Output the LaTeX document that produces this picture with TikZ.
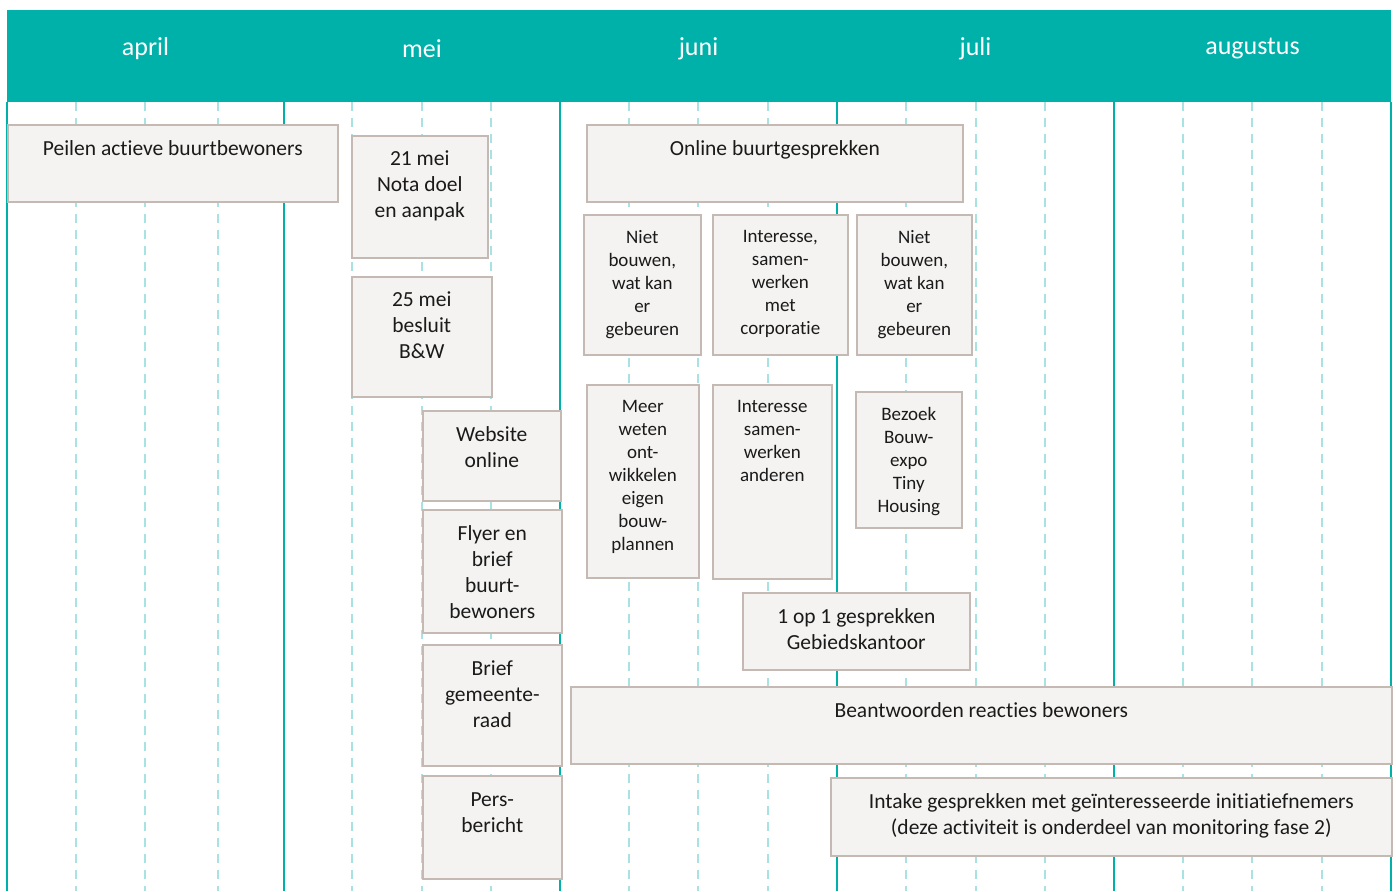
\documentclass[tikz,border=0pt]{standalone}
\usepackage{fontspec}
\setmainfont{Carlito}[Ligatures=NoCommon]
\usepackage{xcolor}
\usetikzlibrary{positioning}
\definecolor{teal}{RGB}{0, 177, 170}
\definecolor{teallight}{RGB}{168, 226, 226}
\definecolor{boxfill}{RGB}{245, 243, 241}
\definecolor{boxline}{RGB}{197, 185, 179}
\definecolor{inkdark}{RGB}{26, 26, 26}

\begin{document}
\begin{tikzpicture}[
  x=1pt, y=-1pt,
  month/.style={text=white, font=\fontsize{26}{30}\selectfont},
  box/.style={rectangle, draw=boxline, fill=boxfill, line width=1.6pt, anchor=north west, inner sep=0pt},
  txt/.style={align=center, inner sep=0pt, text=inkdark, font=\fontsize{21.5}{26}\selectfont},
  small/.style={align=center, inner sep=0pt, text=inkdark, font=\fontsize{19}{23}\selectfont}
]
\useasboundingbox[fill=white] (0,0) rectangle (1396,891);

% Header
\fill[teal] (7,10) rectangle (1391,102);
\node[month] (apr) at (145.5,49) {april};
\node[month] (mei) at (422,49) {mei};
\node[month] (jun) at (698.5,49) {juni};
\node[month] (jul) at (975.5,49) {juli};
\node[month] (aug) at (1252.5,49) {augustus};

% Grid
\foreach \x in {76,145,218,352,422,491,629,698,768,906,976,1045,1183,1252,1322}
  \draw[teallight, line width=1.8pt, dash pattern=on 9pt off 7pt] (\x,102) -- (\x,891);
\foreach \x in {7,284,560,837,1114,1391}
  \draw[teal, line width=1.2pt] (\x,102) -- (\x,891);

% April / mei
\node[box, minimum width=330pt, minimum height=77pt] (peilen) at (7,124) {};
\node[txt, below=16pt of peilen.north] (peilen-t) {Peilen actieve buurtbewoners};
\node[box, minimum width=136pt, minimum height=122pt] (nota) at (351,135) {};
\node[txt, below=16pt of nota.north] (nota-t) {21 mei\\Nota doel\\en aanpak};
\node[box, minimum width=140pt, minimum height=120pt] (besluit) at (351,276) {};
\node[txt, below=16pt of besluit.north] (besluit-t) {25 mei\\besluit\\B\&W};

% Communicatie
\node[box, minimum width=138pt, minimum height=90pt] (website) at (422,410) {};
\node[txt, below=16pt of website.north] (website-t) {Website\\online};
\node[box, minimum width=139pt, minimum height=123pt] (flyer) at (422,509) {};
\node[txt, below=16pt of flyer.north] (flyer-t) {Flyer en\\brief\\buurt-\\bewoners};
\node[box, minimum width=139pt, minimum height=121pt] (raad) at (422,644) {};
\node[txt, below=16pt of raad.north] (raad-t) {Brief\\gemeente-\\raad};
\node[box, minimum width=139pt, minimum height=103pt] (pers) at (422,775) {};
\node[txt, below=17pt of pers.north] (pers-t) {Pers-\\bericht};

% Juni / juli
\node[box, minimum width=376pt, minimum height=77pt] (online) at (586,124) {};
\node[txt, below=16pt of online.north] (online-t) {Online buurtgesprekken};
\node[box, minimum width=117pt, minimum height=140pt] (niet1) at (583,214) {};
\node[small, below=16pt of niet1.north] (niet1-t) {Niet\\bouwen,\\wat kan\\er\\gebeuren};
\node[box, minimum width=135pt, minimum height=140pt] (corp) at (712,214) {};
\node[small, below=16pt of corp.north] (corp-t) {Interesse,\\samen-\\werken\\met\\corporatie};
\node[box, minimum width=115pt, minimum height=140pt] (niet2) at (856,214) {};
\node[small, below=16pt of niet2.north] (niet2-t) {Niet\\bouwen,\\wat kan\\er\\gebeuren};
\node[box, minimum width=112pt, minimum height=193pt] (meer) at (586,384) {};
\node[small, below=16pt of meer.north] (meer-t) {Meer\\weten\\ont-\\wikkelen\\eigen\\bouw-\\plannen};
\node[box, minimum width=119pt, minimum height=194pt] (anderen) at (712,384) {};
\node[small, below=16pt of anderen.north] (anderen-t) {Interesse\\samen-\\werken\\anderen};
\node[box, minimum width=106pt, minimum height=136pt] (expo) at (855,391) {};
\node[small, below=16pt of expo.north] (expo-t) {Bezoek\\Bouw-\\expo\\Tiny\\Housing};
\node[box, minimum width=227pt, minimum height=77pt] (kantoor) at (742,592) {};
\node[txt, below=16pt of kantoor.north] (kantoor-t) {1 op 1 gesprekken\\Gebiedskantoor};

% Doorlopend
\node[box, minimum width=821pt, minimum height=77pt] (reacties) at (570,686) {};
\node[txt, below=16pt of reacties.north] (reacties-t) {Beantwoorden reacties bewoners};
\node[box, minimum width=561pt, minimum height=78pt] (intake) at (830,777) {};
\node[txt, below=16pt of intake.north] (intake-t) {Intake gesprekken met geïnteresseerde initiatiefnemers\\(deze activiteit is onderdeel van monitoring fase 2)};

\end{tikzpicture}
\end{document}
